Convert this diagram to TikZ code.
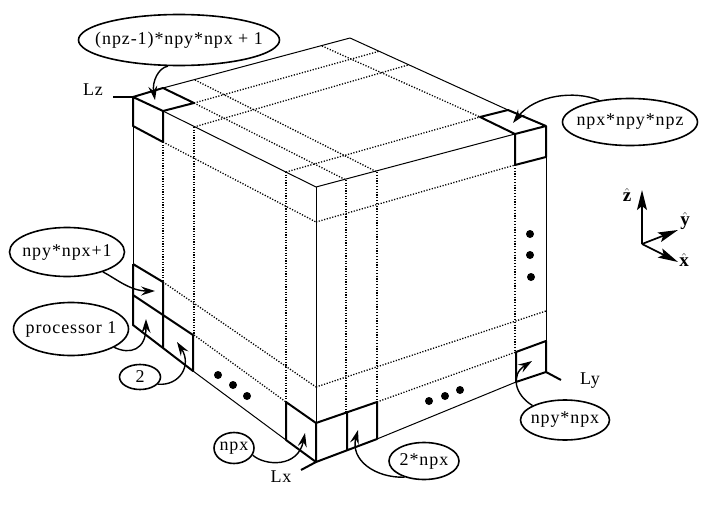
\documentclass[tikz,border=0pt]{standalone}
\usepackage{fontspec}
\setmainfont[LetterSpace=5]{Liberation Serif}
\usetikzlibrary{shapes.geometric,arrows.meta}
\tikzset{
	griddot/.style={line width=1.3pt, dash pattern=on 1.2pt off 1.6pt},
	griddotv/.style={line width=1.8pt, dash pattern=on 1.2pt off 1.4pt},
	thinedge/.style={line width=1pt},
	celledge/.style={line width=2pt},
	bubble/.style={draw, ellipse, line width=1.6pt, inner sep=0pt},
	callout/.style={line width=1.4pt, -{Stealth[length=14pt,width=9pt,inset=5pt]}},
	axisarrow/.style={line width=1.7pt, -{Stealth[length=20pt,width=10pt,inset=4pt]}},
	dotmark/.style={fill, circle, inner sep=0pt, minimum size=8pt},
	hatlabel/.style={font=\fontsize{19}{20}\selectfont, inner sep=0pt}
}
\newcommand{\bubbletext}[1]{\makebox[0pt]{#1}}
\begin{document}
\begin{tikzpicture}[x=1pt, y=-1pt, font=\fontsize{18}{20}\selectfont, line join=round]
	\useasboundingbox (0,0) rectangle (715,506);
	% thin edges of the cube
	\draw[thinedge] (163,88)--(350,38)--(508,110);
	\draw[thinedge] (163,111)--(316,187)--(515,134);
	\draw[thinedge] (316,187)--(316,423);
	\draw[thinedge] (133,126)--(133,264);
	\draw[thinedge] (546,157)--(546,341);
	\draw[thinedge] (193,371)--(286,440);
	\draw[thinedge] (377,439)--(516,382);
	% dotted grid on the three faces
	\foreach \xa/\ya/\xb/\yb in {194/103/346/180, 195/80/377/172, 322/46/480/117, 194/103/380/51, 194/127/408/65, 286/172/480/117, 163/142/316/222, 163/282/316/387, 194/335/286/402, 316/222/515/165, 316/387/546/311, 377/402/516/352}
		\draw[griddot] (\xa,\ya)--(\xb,\yb);
	\foreach \x/\ya/\yb in {163/142/282, 194/127/335, 286/172/402, 346/180/413}
		\draw[griddotv] (\x,\ya)--(\x,\yb);
	\foreach \x/\ya/\yb in {377/172/402, 515/165/352}
		\draw[griddot] (\x,\ya)--(\x,\yb);
	% processor cells
	\draw[celledge] (133,97)--(163,88)--(194,103)--(163,111)--cycle (133,97)--(133,126)--(163,142)--(163,111);
	\draw[celledge] (480,117)--(508,110)--(546,126)--(515,134)--cycle (515,134)--(515,165)--(546,157)--(546,126);
	\draw[celledge] (133,264)--(163,282)--(163,347) (133,295)--(193,335)--(193,371)--(133,325)--(133,264);
	\draw[celledge] (286,402)--(316,423)--(316,462)--(286,440)--cycle;
	\draw[celledge] (316,423)--(377,402)--(377,439)--(316,462) (347,413)--(347,451);
	\draw[celledge] (516,382)--(516,352)--(546,341)--(546,372)--cycle;
	% length ticks
	\draw[celledge] (113,97)--(133,97);
	\draw[celledge] (301,470)--(316,462);
	\draw[celledge] (546,372)--(561,380);
	\node (lz) at (93,90) {Lz};
	\node (lx) at (281,477) {Lx};
	\node (ly) at (590,381) {Ly};
	% row dots
	\foreach \x/\y in {218/375, 233/385, 247/396, 429/401, 445/396, 460/390, 530/234, 530/255, 531/277}
		\node[dotmark] at (\x,\y) {};
	% labels
	\node[bubble, minimum width=201pt, minimum height=51pt] (first) at (179,40) {\bubbletext{(npz-1)*npy*npx + 1}};
	\node[bubble, minimum width=135pt, minimum height=47pt] (last) at (630,122) {\bubbletext{npx*npy*npz}};
	\node[bubble, minimum width=115pt, minimum height=49pt] (layer) at (67,252) {\bubbletext{npy*npx+1}};
	\node[bubble, minimum width=115pt, minimum height=53pt] (proc) at (71,329) {\bubbletext{processor 1}};
	\node[bubble, minimum width=41pt, minimum height=25pt] (two) at (140,377) {\bubbletext{2}};
	\node[bubble, minimum width=40pt, minimum height=31pt] (npx) at (234,448) {\bubbletext{npx}};
	\node[bubble, minimum width=70pt, minimum height=37pt] (twonpx) at (424,461) {\bubbletext{2*npx}};
	\node[bubble, minimum width=89pt, minimum height=40pt] (rowend) at (565,420) {\bubbletext{npy*npx}};
	\coordinate (tfirst) at (155,100);
	\coordinate (tlast) at (513,123);
	\coordinate (tlayer) at (155,291);
	\coordinate (tproc) at (146,319);
	\coordinate (ttwo) at (177,342);
	\coordinate (tnpx) at (305,433);
	\coordinate (ttwonpx) at (358,430);
	\coordinate (trowend) at (532,361);
	\draw[callout] (first.-113) .. controls (158,68) and (152,82) .. (tfirst);
	\draw[callout] (last.145) .. controls (575,90) and (535,95) .. (tlast);
	\draw[callout] (layer.-29) .. controls (115,278) and (130,291) .. (tlayer);
	\draw[callout] (proc.-23) .. controls (130,355) and (146,350) .. (tproc);
	\draw[callout] (two.-22) .. controls (180,386) and (192,365) .. (ttwo);
	\draw[callout] (npx.-21) .. controls (265,466) and (298,468) .. (tnpx);
	\draw[callout] (twonpx.-140) .. controls (375,478) and (350,460) .. (ttwonpx);
	\draw[callout] (rowend.156) .. controls (515,395) and (510,375) .. (trowend);
	% axes
	\coordinate (orig) at (642,244);
	\coordinate (zend) at (642,190);
	\coordinate (yend) at (678,230);
	\coordinate (xend) at (678,262);
	\draw[axisarrow] (orig)--(zend);
	\draw[axisarrow] (orig)--(yend);
	\draw[axisarrow] (orig)--(xend);
	\node[hatlabel] (zhat) at (627,195) {$\hat{\mathbf{z}}$};
	\node[hatlabel] (yhat) at (685,221) {$\hat{\mathbf{y}}$};
	\node[hatlabel] (xhat) at (684,260) {$\hat{\mathbf{x}}$};
\end{tikzpicture}
\end{document}
